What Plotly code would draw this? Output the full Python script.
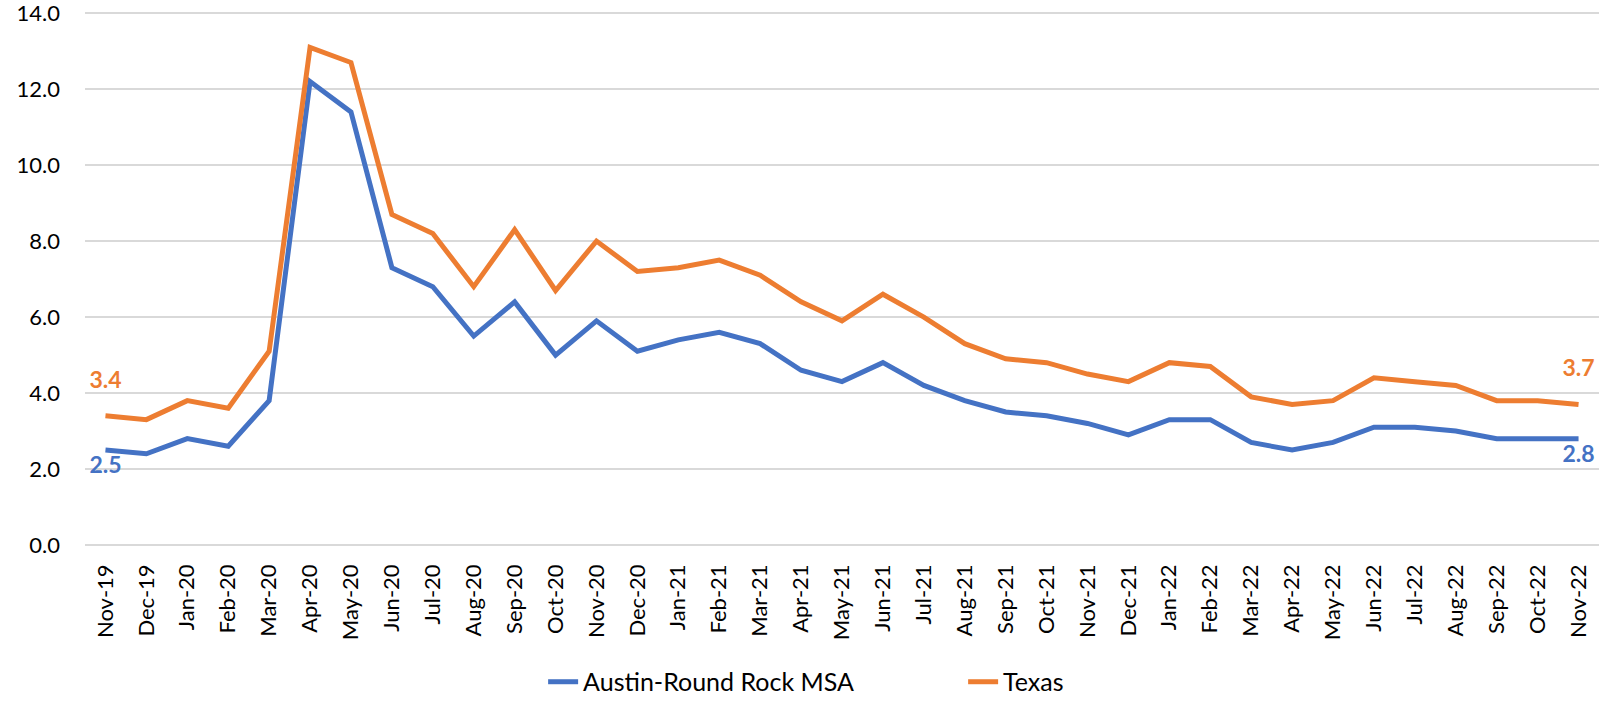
import plotly.graph_objects as go

months = ["Nov-19", "Dec-19", "Jan-20", "Feb-20", "Mar-20", "Apr-20", "May-20", "Jun-20",
          "Jul-20", "Aug-20", "Sep-20", "Oct-20", "Nov-20", "Dec-20", "Jan-21", "Feb-21",
          "Mar-21", "Apr-21", "May-21", "Jun-21", "Jul-21", "Aug-21", "Sep-21", "Oct-21",
          "Nov-21", "Dec-21", "Jan-22", "Feb-22", "Mar-22", "Apr-22", "May-22", "Jun-22",
          "Jul-22", "Aug-22", "Sep-22", "Oct-22", "Nov-22"]

austin = [2.5, 2.4, 2.8, 2.6, 3.8, 12.2, 11.4, 7.3, 6.8, 5.5, 6.4, 5.0, 5.9, 5.1, 5.4, 5.6,
          5.3, 4.6, 4.3, 4.8, 4.2, 3.8, 3.5, 3.4, 3.2, 2.9, 3.3, 3.3, 2.7, 2.5, 2.7, 3.1,
          3.1, 3.0, 2.8, 2.8, 2.8]

texas = [3.4, 3.3, 3.8, 3.6, 5.1, 13.1, 12.7, 8.7, 8.2, 6.8, 8.3, 6.7, 8.0, 7.2, 7.3, 7.5,
         7.1, 6.4, 5.9, 6.6, 6.0, 5.3, 4.9, 4.8, 4.5, 4.3, 4.8, 4.7, 3.9, 3.7, 3.8, 4.4,
         4.3, 4.2, 3.8, 3.8, 3.7]

y_ticks = [0, 2, 4, 6, 8, 10, 12, 14]

BLUE = "#4472C4"
ORANGE = "#ED7D31"
FONT = "Lato"

fig = go.Figure()
fig.add_trace(go.Scatter(
    x=months, y=austin, name="Austin-Round Rock MSA", mode="lines",
    line=dict(color=BLUE, width=5),
))
fig.add_trace(go.Scatter(
    x=months, y=texas, name="Texas", mode="lines",
    line=dict(color=ORANGE, width=5),
))


def end_label_trace(vals, color, pos, pad):
    # first/last value labels; invisible markers only push the text off the line
    return go.Scatter(
        x=[months[0], months[-1]], y=[vals[0], vals[-1]],
        text=[f"{vals[0]:.1f}", f"{vals[-1]:.1f}"],
        mode="markers+text", textposition=pos, cliponaxis=False,
        marker=dict(size=pad, opacity=0, color=color),
        textfont=dict(color=color, size=23, family=FONT, weight="bold"),
        showlegend=False, hoverinfo="skip",
    )


fig.add_trace(end_label_trace(austin, BLUE, "bottom center", 8))
fig.add_trace(end_label_trace(texas, ORANGE, "top center", 34))

fig.update_layout(
    width=1607, height=708,
    margin=dict(l=85, r=8, t=12, b=163, autoexpand=False),
    paper_bgcolor="white", plot_bgcolor="white",
    font=dict(family=FONT, size=22, color="black"),
    showlegend=True,
    legend=dict(orientation="h", x=0.58, xanchor="center", y=-0.257, yanchor="middle",
                font=dict(size=25), entrywidth=375, entrywidthmode="pixels"),
)
fig.update_xaxes(
    type="category", range=[-0.5, len(months) - 0.5], automargin=False,
    tickangle=-90, showgrid=False, showline=False, ticks="",
    tickfont=dict(size=22), ticklabelstandoff=14,
)
fig.update_yaxes(
    range=[0, 14.03], tickvals=y_ticks, tickformat=".1f", automargin=False,
    showgrid=True, gridcolor="#D9D9D9", gridwidth=2,
    zeroline=True, zerolinecolor="#D9D9D9", zerolinewidth=2,
    showline=False, ticks="", tickfont=dict(size=22), ticklabelstandoff=24,
    ticklabeloverflow="allow",
)

fig.write_html("out.html", config={"displayModeBar": False},
               post_script="document.body.style.margin='0';")
